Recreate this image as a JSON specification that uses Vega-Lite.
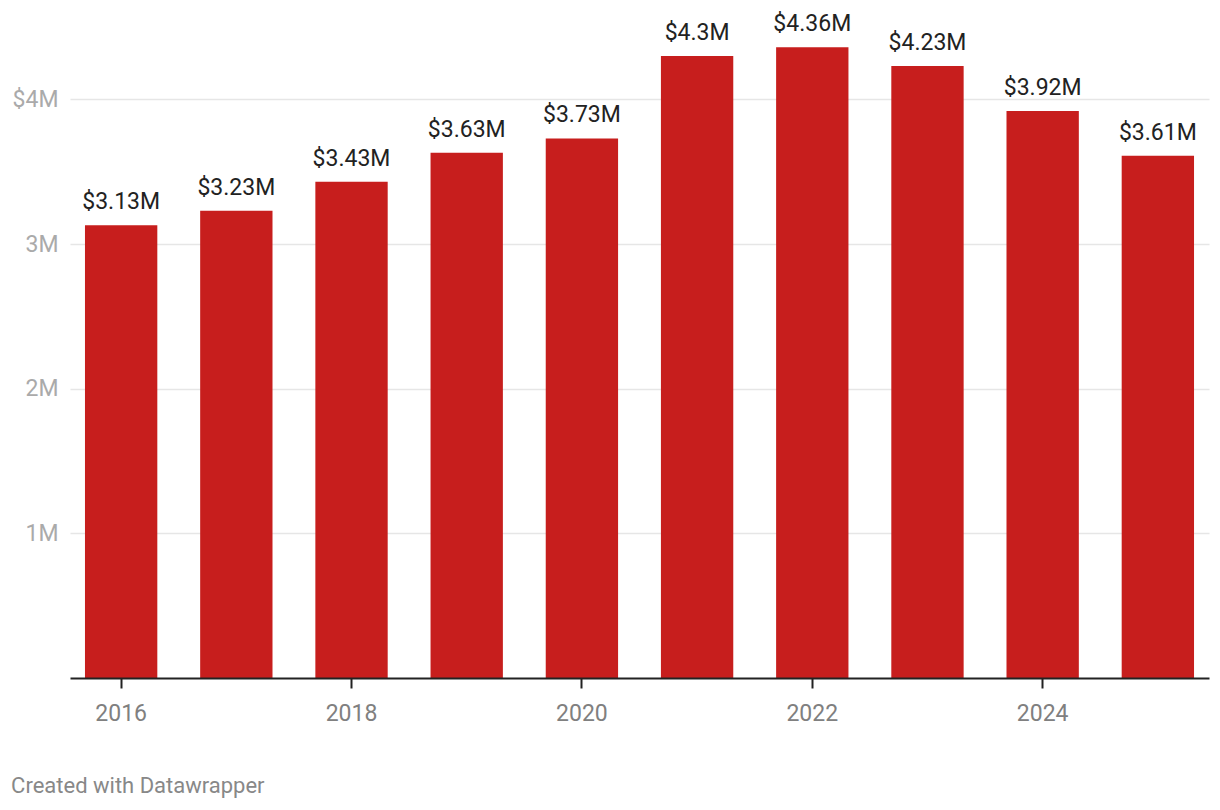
{
  "$schema": "https://vega.github.io/schema/vega-lite/v6.json",
  "width": 1139,
  "height": 651,
  "autosize": {"type": "none"},
  "padding": {"left": 70, "top": 27, "right": 11, "bottom": 132},
  "background": "white",
  "config": {"font": "Roboto", "view": {"stroke": null}},
  "title": {
    "text": "Created with Datawrapper",
    "orient": "bottom",
    "anchor": "start",
    "dx": -1,
    "offset": 51,
    "fontSize": 22,
    "fontWeight": "normal",
    "color": "#888888"
  },
  "data": {
    "values": [
      {"year": 2016, "value": 3.13},
      {"year": 2017, "value": 3.23},
      {"year": 2018, "value": 3.43},
      {"year": 2019, "value": 3.63},
      {"year": 2020, "value": 3.73},
      {"year": 2021, "value": 4.3},
      {"year": 2022, "value": 4.36},
      {"year": 2023, "value": 4.23},
      {"year": 2024, "value": 3.92},
      {"year": 2025, "value": 3.61}
    ]
  },
  "transform": [{"calculate": "'$' + datum.value + 'M'", "as": "label"}],
  "encoding": {
    "x": {
      "field": "year",
      "type": "ordinal",
      "scale": {"paddingInner": 0.372, "paddingOuter": 0.13},
      "axis": {
        "title": null,
        "values": [2016, 2018, 2020, 2022, 2024],
        "labelAngle": 0,
        "labelFontSize": 23,
        "labelColor": "#808080",
        "labelPadding": 14,
        "domainColor": "#222222",
        "domainWidth": 2,
        "tickColor": "#222222",
        "tickWidth": 2,
        "tickSize": 10,
        "grid": false,
        "zindex": 1
      }
    },
    "y": {
      "field": "value",
      "type": "quantitative",
      "scale": {"domain": [0, 4.5], "nice": false},
      "axis": {
        "title": null,
        "values": [1, 2, 3, 4],
        "labelExpr": "datum.value == 4 ? '$4M' : datum.value + 'M'",
        "domain": false,
        "ticks": false,
        "grid": true,
        "gridColor": "#e6e6e6",
        "gridWidth": 1.5,
        "labelFontSize": 23,
        "labelColor": "#aaaaaa",
        "labelPadding": 12,
        "zindex": 0
      }
    }
  },
  "layer": [
    {"mark": {"type": "bar", "color": "#c71e1d"}},
    {
      "mark": {"type": "text", "align": "center", "baseline": "alphabetic", "dy": -16, "fontSize": 23, "color": "#222222"},
      "encoding": {"text": {"field": "label"}}
    }
  ]
}
